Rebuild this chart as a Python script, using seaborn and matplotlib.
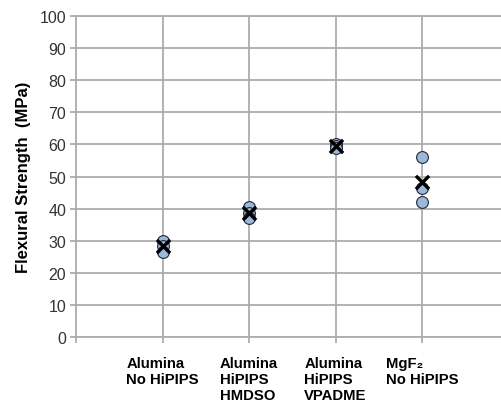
import matplotlib
matplotlib.use("Agg")
import matplotlib.pyplot as plt
import seaborn as sns
import pandas as pd

# --- DATOS ---
categorias = ["Alumina\nNo HiPIPS", "Alumina\nHiPIPS\nHMDSO",
              "Alumina\nHiPIPS\nVPADME", "MgF\u2082\nNo HiPIPS"]
grupo = [0, 0, 0, 1, 1, 1, 2, 2, 2, 3, 3, 3]
resistencia = [30.0, 28.5, 26.5, 40.5, 38.5, 37.0,
               60.0, 59.5, 59.0, 56.0, 46.5, 42.0]

df = pd.DataFrame({"cat": [categorias[g] for g in grupo], "val": resistencia})
medias = df.groupby("cat", sort=False)["val"].mean().reset_index()

sns.set_theme(style="white")
plt.rcParams["font.family"] = ["Liberation Sans", "DejaVu Sans"]

gris = "#ADADAD"
fig = plt.figure(figsize=(5.02, 4.06), dpi=100)
ax = fig.add_axes([76 / 502, 68 / 406, 432.5 / 502, 321 / 406])

sns.stripplot(data=df, x="cat", y="val", order=categorias, jitter=False,
              color="#9BB7DA", edgecolor="#1F2A3A", linewidth=0.8, size=8.5,
              ax=ax, zorder=3)
sns.stripplot(data=medias, x="cat", y="val", order=categorias, jitter=False,
              color="black", marker="x", linewidth=2.4, size=9.5, ax=ax, zorder=4)

# rejilla (despues de stripplot, que la desactiva en el eje categorico)
ax.grid(True, axis="both", color=gris, lw=1.3)
ax.set_axisbelow(True)

ax.set_xlim(-1, 4)
ax.set_ylim(0, 100)
ax.set_yticks(range(0, 101, 10))
ax.set_xticks(range(4))
ax.set_xticks([-1], minor=True)
ax.set_xticklabels(categorias, fontsize=10.7, fontweight="bold", color="black",
                   multialignment="left", linespacing=1.15)
ax.tick_params(axis="y", labelsize=11.5, labelcolor="#333333", length=4,
               width=1.3, color=gris, left=True, pad=3)
ax.tick_params(axis="x", which="both", length=4, width=1.3, color=gris,
               bottom=True, pad=10)
ax.set_xlabel("")
ax.set_ylabel("Flexural Strength  (MPa)", fontsize=12, fontweight="bold",
              color="black", labelpad=6)

for lado in ["left", "bottom", "top"]:
    ax.spines[lado].set_color(gris)
    ax.spines[lado].set_linewidth(1.3)
ax.spines["right"].set_visible(False)

fig.savefig("out.png", dpi=100)
